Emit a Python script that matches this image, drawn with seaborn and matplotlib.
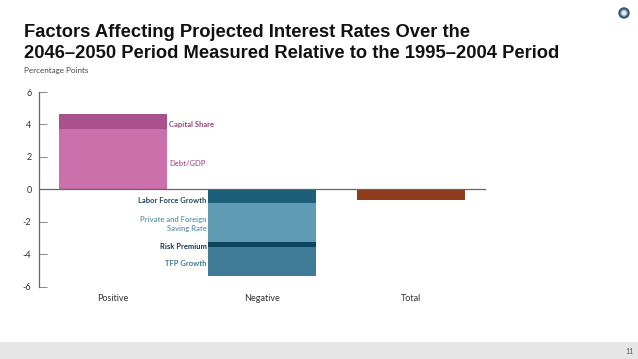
import matplotlib
matplotlib.use("Agg")
import matplotlib.pyplot as plt
import pandas as pd
import seaborn as sns
from matplotlib.patches import Circle, Rectangle

W, H = 638, 359

groups = ["Positive", "Negative", "Total"]
yticks = [-6, -4, -2, 0, 2, 4, 6]

# name, group, size
positive_names = ["Debt/GDP", "Capital Share"]
positive_vals = [3.70, 0.93]
positive_cols = ["#cc70ab", "#aa508c"]
negative_names = ["Labor Force Growth", "Private and Foreign\nSaving Rate", "Risk Premium", "TFP Growth"]
negative_vals = [-0.86, -2.39, -0.33, -1.77]
negative_cols = ["#1c5f78", "#5f9cb4", "#0e4560", "#3f7a96"]
total_vals = [-0.66]
total_cols = ["#8f3c1c"]

sns.set_theme(style="white")
plt.rcParams["font.family"] = ["Lato", "DejaVu Sans"]

fig = plt.figure(figsize=(W / 100, H / 100), dpi=100)
ax = fig.add_axes([38.5 / W, 1 - 286.7 / H, (485.5 - 38.5) / W, (286.7 - 92) / H])


def stack(group, vals, cols):
    base = 0
    for v, c in zip(vals, cols):
        df = pd.DataFrame({"group": [group], "value": [v]})
        sns.barplot(data=df, x="group", y="value", order=groups, color=c, saturation=1,
                    width=0.72, bottom=base, errorbar=None, ax=ax, linewidth=0)
        base += v


stack("Positive", positive_vals, positive_cols)
stack("Negative", negative_vals, negative_cols)
stack("Total", total_vals, total_cols)

ax.set_xlim(-0.5, 2.5)
ax.set_ylim(-6, 6)
ax.set_xlabel("")
ax.set_ylabel("")
ax.set_yticks(yticks)
ax.set_yticklabels([str(t) for t in yticks], fontsize=6.5, color="#333333")
ax.tick_params(axis="y", direction="in", length=5.5, width=0.7, color="#888888", pad=5, left=True)
ax.tick_params(axis="x", length=0, pad=5, labelsize=6.5, labelcolor="#333333")
for s in ["top", "right", "bottom"]:
    ax.spines[s].set_visible(False)
ax.spines["left"].set_color("#666666")
ax.spines["left"].set_linewidth(0.9)
ax.axhline(0, color="#666666", lw=0.9, zorder=5)

# segment labels, beside the bars
right_of = 0.36 + 0.015
left_of = 1 - 0.36 - 0.012
seg_size = 5.5
ax.text(right_of, 3.97, "Capital Share", color="#8f4a7c", fontsize=seg_size, fontweight="bold", va="center")
ax.text(right_of, 1.58, "Debt/GDP", color="#b0699a", fontsize=seg_size, fontweight="bold", va="center")
ax.text(left_of, -0.67, "Labor Force Growth", color="#1c4a5f", fontsize=seg_size, fontweight="bold", va="center", ha="right")
ax.text(left_of, -2.15, "Private and Foreign\nSaving Rate", color="#6f9db0", fontsize=seg_size, fontweight="bold",
        va="center", ha="right", linespacing=1.3)
ax.text(left_of, -3.5, "Risk Premium", color="#0e3a50", fontsize=seg_size, fontweight="bold", va="center", ha="right")
ax.text(left_of, -4.55, "TFP Growth", color="#3f7a96", fontsize=seg_size, fontweight="bold", va="center", ha="right")

# slide furniture
fig.text(24 / W, 1 - 37 / H, "Factors Affecting Projected Interest Rates Over the", fontsize=13.2,
         fontweight="bold", family="Liberation Sans", color="#111111", va="baseline")
fig.text(24 / W, 1 - 58 / H, "2046–2050 Period Measured Relative to the 1995–2004 Period", fontsize=13.2,
         fontweight="bold", family="Liberation Sans", color="#111111", va="baseline")
fig.text(24.5 / W, 1 - 71 / H, "Percentage Points", fontsize=5.8, color="#444444", va="center")

fig.add_artist(Rectangle((0, 0), 1, 17.5 / H, transform=fig.transFigure, color="#e6e6e6", lw=0))
fig.text(630 / W, 1 - 351 / H, "11", fontsize=5, color="#555555", ha="center", va="center")

logo = fig.add_axes([618 / W, 1 - 19 / H, 12 / W, 12 / H])
logo.set_xlim(-1, 1)
logo.set_ylim(-1, 1)
logo.axis("off")
logo.add_patch(Circle((0, 0), 0.95, color="#2f5570", lw=0))
logo.add_patch(Circle((0, 0), 0.62, color="#8aa3b5", lw=0))
logo.add_patch(Circle((0, 0), 0.4, color="#e4ebf0", lw=0))

fig.savefig("out.png", dpi=100)
